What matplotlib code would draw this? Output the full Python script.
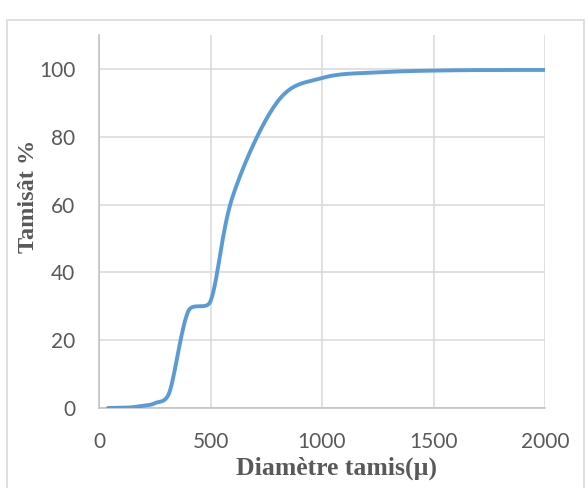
import numpy as np
import matplotlib
matplotlib.use('Agg')
import matplotlib.pyplot as plt
from matplotlib.patches import Rectangle

# sieve openings (microns) and cumulative passing (%)
diametre = [40, 80, 125, 160, 200, 250, 315, 400, 500, 600, 800, 1000, 1250, 1600, 2000]
tamisat = [0.0, 0.05, 0.1, 0.3, 0.7, 1.4, 4.5, 28.5, 31.5, 62.5, 90.3, 97.3, 99.0, 99.6, 99.7]

x_ticks = [0, 500, 1000, 1500, 2000]
y_ticks = [0, 20, 40, 60, 80, 100]


def smooth_line(x, y, n=40):
	'''Excel-like smoothed line: bezier through each point,
	control arms shortened so the curve stays inside each segment'''
	p = np.column_stack([x, y]).astype(float)
	p = np.vstack([p[0], p, p[-1]])
	out = []
	for i in range(1, len(p) - 2):
		p0, p1, p2, p3 = p[i - 1], p[i], p[i + 1], p[i + 2]
		a1 = (p2 - p0) / 6.0
		a2 = -(p3 - p1) / 6.0
		dy = p2[1] - p1[1]
		# keep the handles from going past the next point in y
		if abs(a1[1]) > abs(dy) and a1[1] != 0:
			a1 = a1 * abs(dy) / abs(a1[1])
		if abs(a2[1]) > abs(dy) and a2[1] != 0:
			a2 = a2 * abs(dy) / abs(a2[1])
		c1 = p1 + a1
		c2 = p2 + a2
		t = np.linspace(0, 1, n)[:, None]
		seg = ((1 - t) ** 3) * p1 + 3 * ((1 - t) ** 2) * t * c1 + 3 * (1 - t) * t ** 2 * c2 + t ** 3 * p2
		out.append(seg if i == 1 else seg[1:])
	out = np.vstack(out)
	return out[:, 0], out[:, 1]


fig = plt.figure(figsize=(5.87, 4.88), dpi=100)
ax = fig.add_axes([99 / 587, 80 / 488, 446 / 587, 373 / 488])

# light frame round the chart
fig.patches.append(Rectangle((7 / 587, -0.02), 577 / 587, 0.979, transform=fig.transFigure,
	fill=False, edgecolor='#d9d9d9', linewidth=1.2))

sx, sy = smooth_line(diametre, tamisat)
ax.plot(sx, sy, color='#5b9bd5', linewidth=2.8, solid_capstyle='round', zorder=3)

ax.set_xlim(0, 2000)
ax.set_ylim(0, 110)
ax.set_xticks(x_ticks)
ax.set_yticks(y_ticks)
ax.grid(True, color='#d9d9d9', linewidth=1.1)
ax.set_axisbelow(True)
for s in ['top', 'right']:
	ax.spines[s].set_visible(False)
for s in ['left', 'bottom']:
	ax.spines[s].set_color('#bfbfbf')
	ax.spines[s].set_linewidth(1.1)
ax.tick_params(length=0, labelsize=15, labelcolor='#595959', pad=17)
for lab in ax.get_xticklabels() + ax.get_yticklabels():
	lab.set_fontfamily('Lato')

ax.set_xlabel('Diamètre tamis(µ)', fontfamily='Liberation Serif', fontweight='bold',
	fontsize=18.5, color='#595959')
ax.set_ylabel('Tamisât %', fontfamily='Liberation Serif', fontweight='bold',
	fontsize=17.5, color='#595959')
ax.xaxis.set_label_coords(0.532, -0.13)
ax.yaxis.set_label_coords(-0.135, 0.568)

fig.savefig('out.png', dpi=100)
